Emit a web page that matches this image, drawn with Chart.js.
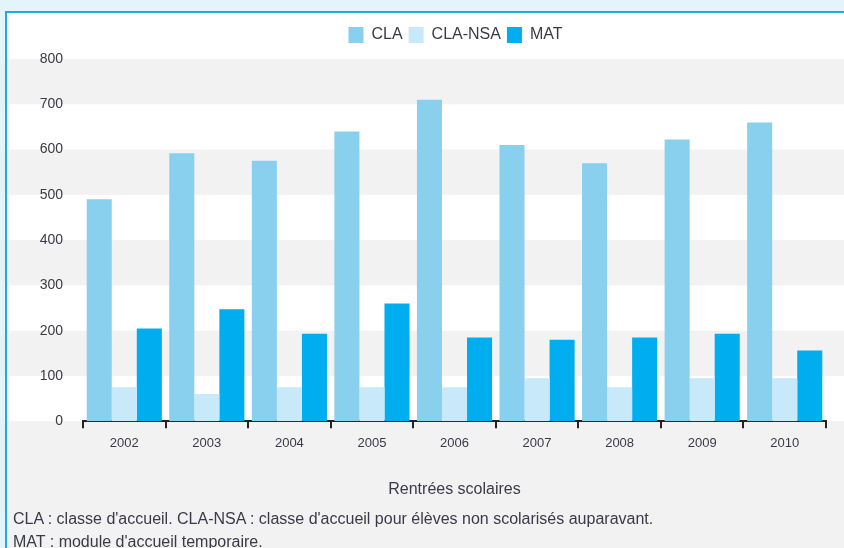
<!DOCTYPE html>
<html>
<head>
<meta charset="utf-8">
<script src="https://cdn.jsdelivr.net/npm/chart.js@4.4.0/dist/chart.umd.min.js"></script>
<style>
  body { margin: 0; background: #e4f4fc; width: 844px; height: 548px; overflow: hidden; }
  #panel { position: absolute; left: 5px; top: 11px; width: 845px; height: 545px;
           border: 2px solid #1ea9e1; background: #fff; }
  #chWrap { position: absolute; left: 0; top: 0; width: 845px; height: 545px; }
  .note { position: absolute; left: 6px; font-family: "Liberation Sans", Arial, sans-serif;
          font-size: 16px; line-height: 17px; color: #3a3a48; white-space: nowrap; }
</style>
</head>
<body>
<div id="panel">
  <div id="chWrap"><canvas id="chBars"></canvas></div>
  <div class="note" style="top:497px">CLA : classe d'accueil. CLA-NSA : classe d'accueil pour élèves non scolarisés auparavant.</div>
  <div class="note" style="top:520px">MAT : module d'accueil temporaire.</div>
</div>
<script>
var years = ['2002', '2003', '2004', '2005', '2006', '2007', '2008', '2009', '2010'];
var cla = [490, 592, 575, 640, 710, 610, 570, 622, 660];
var claNsa = [75, 60, 75, 75, 75, 95, 75, 95, 95];
var mat = [205, 247, 193, 260, 185, 180, 185, 193, 156];
var colors = ['#89cfee', '#c8e9fa', '#00adef'];

Chart.defaults.font.family = '"Liberation Sans", Arial, sans-serif';
Chart.defaults.color = '#3a3a48';

// gray bands between every other hundred, plus gray below the axis
var bandPlugin = {
  id: 'bands',
  beforeDraw: function(chart) {
    var ctx = chart.ctx, y = chart.scales.y;
    ctx.save();
    ctx.fillStyle = '#f2f2f2';
    for (var v = 100; v < 800; v += 200) {
      var top = y.getPixelForValue(v + 100), bot = y.getPixelForValue(v);
      ctx.fillRect(0, top, chart.width, bot - top);
    }
    var zero = y.getPixelForValue(0);
    ctx.fillRect(0, zero, chart.width, chart.height - zero);
    ctx.restore();
  }
};

// a bit more room under the legend, and legend pushed a little right
var legendTweak = {
  id: 'legendTweak',
  beforeInit: function(chart) {
    var fit = chart.legend.fit;
    chart.legend.fit = function() {
      fit.bind(chart.legend)();
      this.height += 6;
    };
  },
  afterLayout: function(chart) {
    chart.legend.left += 39;
    chart.legend.right += 39;
  }
};

var chBars = document.getElementById('chBars');
if (chBars) {
  new Chart(chBars, {
    type: 'bar',
    data: {
      labels: years,
      datasets: [
        { label: 'CLA', data: cla, backgroundColor: colors[0] },
        { label: 'CLA-NSA', data: claNsa, backgroundColor: colors[1] },
        { label: 'MAT', data: mat, backgroundColor: colors[2] }
      ]
    },
    options: {
      responsive: true,
      maintainAspectRatio: false,
      animation: false,
      categoryPercentage: 0.91,
      barPercentage: 1.0,
      layout: { padding: { left: 0, right: 26, top: 8, bottom: 55 } },
      plugins: {
        tooltip: { enabled: false },
        legend: {
          position: 'top',
          labels: { boxWidth: 15, boxHeight: 16, padding: 6, font: { size: 16 } }
        }
      },
      scales: {
        x: {
          offset: true,
          grid: { display: true, drawOnChartArea: false, offset: true, tickLength: 7, color: '#222', lineWidth: 2 },
          border: { color: '#222', width: 2 },
          ticks: { font: { size: 13 }, padding: 7 },
          title: { display: true, text: 'Rentrées scolaires', font: { size: 16 }, padding: { top: 22 } }
        },
        y: {
          min: 0, max: 800,
          afterFit: function(scale) { scale.width = 76; },
          grid: { display: false },
          border: { display: false },
          ticks: { stepSize: 100, font: { size: 14 }, padding: 12 }
        }
      }
    },
    plugins: [bandPlugin, legendTweak]
  });
}
</script>
</body>
</html>
